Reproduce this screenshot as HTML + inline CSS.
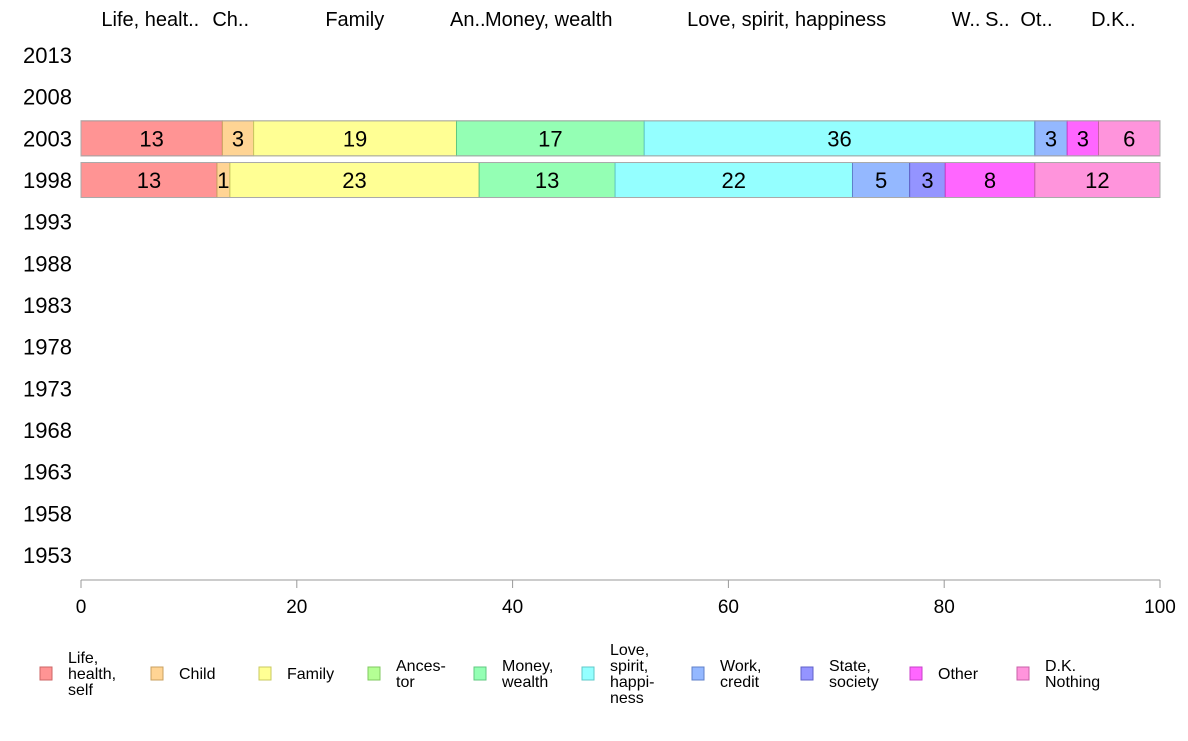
<!DOCTYPE html>
<html><head><meta charset="utf-8"><style>
body{margin:0;background:#fff;font-family:"Liberation Sans",Arial,sans-serif}
svg text{font-family:"Liberation Sans",Arial,sans-serif}
</style></head><body>
<svg id="chart" width="1188" height="736" xmlns="http://www.w3.org/2000/svg"></svg>
<script>
const years=[2013,2008,2003,1998,1993,1988,1983,1978,1973,1968,1963,1958,1953];
const categories=["Life, health, self","Child","Family","Ancestor","Money, wealth","Love, spirit, happiness","Work, credit","State, society","Other","D.K. Nothing"];
const values2003=[13.1,2.9,18.8,0,17.4,36.2,3.0,0,2.9,5.7];
const values1998=[12.6,1.2,23.1,0,12.6,22.0,5.3,3.3,8.3,11.6];
const labels2003=["13","3","19","","17","36","3","","3","6"];
const labels1998=["13","1","23","","13","22","5","3","8","12"];
const topLabels=["Life, healt..","Ch..","Family","An..","Money, wealth","Love, spirit, happiness","W..","S..","Ot..","D.K.."];
const xTicks=[0,20,40,60,80,100];
const legendLines=[["Life,","health,","self"],["Child"],["Family"],["Ances-","tor"],["Money,","wealth"],["Love,","spirit,","happi-","ness"],["Work,","credit"],["State,","society"],["Other"],["D.K.","Nothing"]];
const colors=["#ff9494","#ffd494","#ffff94","#b4ff94","#94ffb4","#94ffff","#94b8ff","#9494ff","#ff66ff","#ff94dc"];
const strokes=["#cc6666","#c9a060","#c9c960","#80c960","#60c980","#60c9c9","#6080c9","#6060c9","#c940c9","#c960a8"];
const NS="http://www.w3.org/2000/svg";
const svg=document.getElementById('chart');
const x0=81,x1=1160;
const xs=v=>x0+(x1-x0)*v/100;
const ys=i=>55+i*41.67;
function el(t,a,p){const e=document.createElementNS(NS,t);for(const k in a)e.setAttribute(k,a[k]);(p||svg).appendChild(e);return e;}
// y labels
years.forEach((y,i)=>{const t=el('text',{x:72,y:ys(i)+8,'text-anchor':'end','font-size':22,fill:'#000'});t.textContent=y;

});
// axis
const ax=el('line',{x1:x0,x2:x1,y1:580,y2:580,stroke:'#999','stroke-width':1});


xTicks.forEach(v=>{el('line',{x1:xs(v),x2:xs(v),y1:580,y2:588,stroke:'#999'});
const t=el('text',{x:xs(v),y:613,'text-anchor':'middle','font-size':19});t.textContent=v;

});
function drawRow(vals,labs,yi,name){
  let c=0;const yc=ys(yi);const h=35;
  vals.forEach((v,k)=>{
    if(v>0){
      const r=el('rect',{x:xs(c),y:yc-h/2,width:xs(c+v)-xs(c),height:h,fill:colors[k],stroke:strokes[k],'stroke-width':1});
      
      
      const t=el('text',{x:(xs(c)+xs(c+v))/2,y:yc+8,'text-anchor':'middle','font-size':22});t.textContent=labs[k];
      
      
    }
    c+=v;
  });
  el('rect',{x:x0,y:yc-h/2,width:x1-x0,height:h,fill:'none',stroke:'#aaa','stroke-width':1});
}
drawRow(values2003,labels2003,2,'2003');
drawRow(values1998,labels1998,3,'1998');
// top labels at mean midpoints
let a=0,b=0;
categories.forEach((c,k)=>{
  const m=((a+values2003[k]/2)+(b+values1998[k]/2))/2;
  a+=values2003[k];b+=values1998[k];
  const t=el('text',{x:xs(m),y:26,'text-anchor':'middle','font-size':20});t.textContent=topLabels[k];
  
  
});
// legend
const lx=[46,157,265,374,480,588,698,807,916,1023];
legendLines.forEach((lines,k)=>{
  const g=el('g',{});
  
  
  el('rect',{x:lx[k]-6,y:667,width:12,height:13,fill:colors[k],stroke:strokes[k]},g);
  const n=lines.length, y0=679-(n-1)*16/2;
  lines.forEach((l,j)=>{const t=el('text',{x:lx[k]+22,y:y0+j*16,'font-size':16},g);t.textContent=l;});
});
</script>
</body></html>
